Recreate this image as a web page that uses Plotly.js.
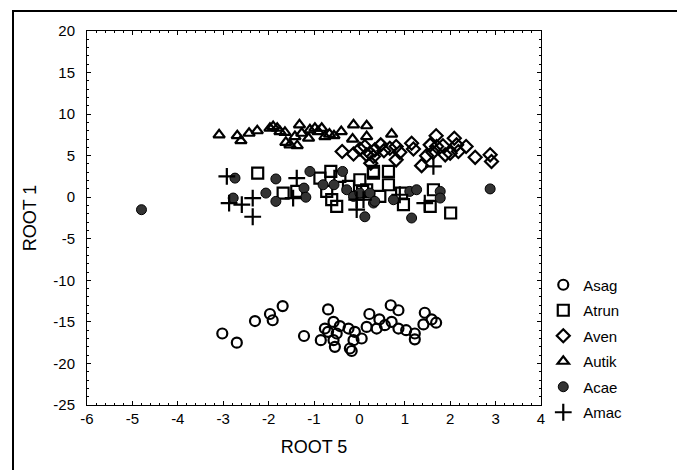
<!DOCTYPE html>
<html>
<head>
<meta charset="utf-8">
<script src="https://cdn.plot.ly/plotly-3.0.1.min.js"></script>
<style>
html,body{margin:0;padding:0;background:#fff;overflow:hidden;}
#frame{position:absolute;left:12px;top:10px;width:700px;height:500px;border-left:2px solid #000;border-top:2px solid #000;}
#chart{position:absolute;left:0;top:0;width:677px;height:470px;}
</style>
</head>
<body>
<div id="frame"></div>
<div id="chart"></div>
<script>
// Asag (open circles)
const asagX = [-3.02,-2.70,-2.30,-1.97,-1.91,-1.69,-1.22,-0.69,-0.85,-0.76,-0.69,-0.57,-0.54,-0.57,-0.50,-0.43,-0.24,-0.21,-0.17,-0.10,-0.13,0.05,0.16,0.22,0.38,0.44,0.56,0.69,0.86,0.71,0.86,1.03,1.22,1.22,1.44,1.41,1.59,1.69];
const asagY = [-16.4,-17.5,-14.9,-14.05,-14.8,-13.1,-16.7,-13.5,-17.2,-15.8,-16.2,-15.0,-18.0,-17.2,-16.4,-15.5,-15.8,-18.2,-18.5,-16.2,-17.2,-17.0,-15.6,-14.05,-15.8,-14.7,-15.4,-13.0,-13.6,-15.0,-15.8,-16.0,-16.4,-17.1,-13.9,-15.3,-14.7,-15.1];
// Atrun (open squares)
const atrunX = [-2.24,-1.68,-1.38,-0.87,-0.63,-0.72,-0.61,-0.43,-0.24,0.01,0.07,0.31,-0.50,0.64,0.31,0.16,0.45,0.93,0.97,1.63,1.56,2.01,0.64];
const atrunY = [2.9,0.5,0.7,2.3,3.1,0.7,-0.3,2.5,1.3,2.1,0.7,2.9,-1.1,3.1,3.1,0.9,0.1,0.5,-0.9,0.9,-1.1,-1.9,1.5];
// Aven (open diamonds)
const avenX = [-0.38,-0.13,0.01,0.16,0.25,0.31,0.12,0.23,0.34,0.47,0.54,0.67,0.81,0.81,0.89,1.15,1.19,1.37,1.48,1.56,1.62,1.69,1.70,1.84,1.89,2.00,2.09,2.14,2.18,2.35,2.55,2.88,2.91];
const avenY = [5.5,5.2,5.8,5.1,4.1,4.9,6.1,5.3,5.7,6.3,5.6,5.9,6.1,4.5,5.4,6.5,5.8,3.8,5.0,6.3,5.4,7.4,6.1,6.2,5.1,5.3,7.1,6.3,5.5,6.1,4.8,5.1,4.3];
// Autik (open triangles)
const autikX = [-3.09,-2.69,-2.61,-2.43,-2.25,-1.97,-1.90,-1.81,-1.75,-1.64,-1.62,-1.53,-1.42,-1.37,-1.32,-1.27,-1.12,-1.09,-0.98,-0.91,-0.83,-0.76,-0.66,-0.56,-0.40,-0.13,-0.15,0.16,0.16,0.71];
const autikY = [7.5,7.4,6.8,7.7,8.0,8.3,8.5,8.3,7.9,7.8,6.6,6.3,7.3,6.2,8.7,7.7,7.1,8.1,8.3,7.9,8.3,7.3,7.6,7.4,7.9,8.7,7.0,8.6,7.3,7.6];
// Acae (filled circles)
const acaeX = [-4.80,-2.74,-2.78,-1.84,-2.06,-1.84,-1.09,-1.22,-1.18,-0.80,-0.56,-0.37,-0.28,-0.13,0.12,0.23,0.31,0.01,0.34,0.75,1.11,1.26,1.15,1.78,1.78,2.88];
const acaeY = [-1.5,2.3,-0.1,2.2,0.5,-0.5,3.1,1.1,0.0,1.5,1.5,3.1,0.9,0.1,-2.35,0.5,-0.7,0.5,-0.5,-0.3,0.7,0.9,-2.5,0.7,-0.1,1.0];
// Amac (plus)
const amacX = [-2.92,-2.59,-2.35,-2.35,-1.38,-0.06,-0.06,-1.46,1.63,0.89,1.44,0.09,-2.87];
const amacY = [2.5,-0.9,-0.1,-2.35,2.3,-0.3,-1.5,-0.1,3.7,0.3,-0.7,-0.3,-0.7];

// tick labels (hyphen-minus as in the original)
const xTickVals = [-6,-5,-4,-3,-2,-1,0,1,2,3,4];
const xTickText = ['-6','-5','-4','-3','-2','-1','0','1','2','3','4'];
const yTickVals = [-25,-20,-15,-10,-5,0,5,10,15,20];
const yTickText = ['-25','-20','-15','-10','-5','0','5','10','15','20'];

const names = ['Asag','Atrun','Aven','Autik','Acae','Amac'];
const xs = [asagX, atrunX, avenX, autikX, acaeX, amacX];
const ys = [asagY, atrunY, avenY, autikY, acaeY, amacY];
const syms = ['circle-open','square-open','diamond-open','triangle-up-open','circle','cross-thin-open'];
const sizes = [10,11,10,10,10,12];

const traces = names.map((n,i)=>({
  type:'scatter', mode:'markers', name:n, x:xs[i], y:ys[i],
  legendgroup:n,
  marker:{symbol:syms[i], size:sizes[i], color: i===4 ? '#333' : '#000',
    line:{width: i===4 ? 1 : 2.2, color:'#000'}}
}));

const font = {family:'"Liberation Sans", Arial, sans-serif', color:'#000'};
const layout = {
  width:677, height:470,
  margin:{l:87, r:136, t:31, b:65},
  paper_bgcolor:'rgba(0,0,0,0)', plot_bgcolor:'#fff',
  font:font,
  showlegend:true,
  legend:{x:1.005, y:0.365, xanchor:'left', yanchor:'top', font:{size:15, family:font.family}, tracegroupgap:3, bgcolor:'rgba(0,0,0,0)'},
  xaxis:{range:[-6,4], tickmode:'array', tickvals:xTickVals, ticktext:xTickText, showgrid:false, zeroline:false, showline:true, linecolor:'#000', linewidth:1, mirror:'ticks', ticks:'inside', ticklen:4, tickcolor:'#000',
    minor:{ticks:'inside', ticklen:2, dtick:0.2, tickcolor:'#000'},
    tickfont:{size:15}, title:{text:'ROOT 5', font:{size:18}, standoff:14}},
  yaxis:{range:[-25,20], tickmode:'array', tickvals:yTickVals, ticktext:yTickText, showgrid:false, zeroline:false, showline:true, linecolor:'#000', linewidth:1, mirror:'ticks', ticks:'inside', ticklen:4, tickcolor:'#000',
    minor:{ticks:'inside', ticklen:2, dtick:1, tickcolor:'#000'},
    ticklabelstandoff:8,
    tickfont:{size:15}, title:{text:'ROOT 1', font:{size:18}, standoff:12}}
};
Plotly.newPlot('chart', traces, layout, {displayModeBar:false, staticPlot:true});
</script>
</body>
</html>
